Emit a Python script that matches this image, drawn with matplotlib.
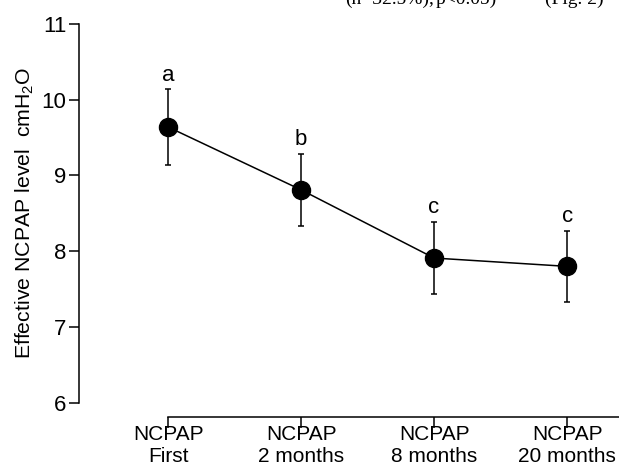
import matplotlib
matplotlib.use("Agg")
import matplotlib.pyplot as plt

fam = "Liberation Sans"
plt.rcParams['font.family'] = [fam, 'DejaVu Sans']
plt.rcParams['mathtext.fontset'] = 'custom'
plt.rcParams['mathtext.rm'] = fam
plt.rcParams['mathtext.it'] = fam

categories = ["NCPAP\nFirst", "NCPAP\n2 months", "NCPAP\n8 months", "NCPAP\n20 months"]
means = [9.64, 8.81, 7.91, 7.80]
errors = [0.50, 0.48, 0.48, 0.47]
letters = ["a", "b", "c", "c"]
yticks = [6, 7, 8, 9, 10, 11]
top_text = ["(n=32.5%),", "p<0.05)", "(Fig. 2)"]

fig = plt.figure(figsize=(6.19, 4.66), dpi=100)
W, H = 619, 466
ax = fig.add_axes([79 / W, (H - 402.7) / H, 540 / W, (402.7 - 24) / H])

x = list(range(len(categories)))
ax.errorbar(x, means, yerr=errors, fmt='o-', color='black', ms=13, lw=1.1,
            elinewidth=1.1, capsize=2.5, capthick=1.1)
for xi, m, e, l in zip(x, means, errors, letters):
    ax.annotate(l, (xi, m + e), xytext=(0, 6), textcoords='offset points',
                ha='center', va='baseline', fontsize=16)

ax.set_xlim(-0.67, 3.39)
ax.set_ylim(6, 11)
ax.set_yticks(yticks)
ax.set_xticks(x)
ax.set_xticklabels(categories, linespacing=1.0)
ax.tick_params(axis='y', labelsize=16, length=7, width=1.1, pad=2)
ax.tick_params(axis='x', labelsize=15, length=8, width=1.1, pad=-2)
for s in ['top', 'right']:
    ax.spines[s].set_visible(False)
ax.spines['left'].set_linewidth(1.1)
ax.spines['bottom'].set_linewidth(1.1)
ax.spines['bottom'].set_position(('outward', 10))
ax.spines['bottom'].set_bounds(0, 3.39)
ax.set_ylabel(r"Effective NCPAP level  cmH$_2$O", fontsize=15.3, labelpad=4)

# page text cut off at the top edge of the original crop
for xp, t in zip([345, 436, 545], top_text):
    fig.text(xp / W, (H - 4) / H, t, family='Liberation Serif',
             fontsize=14, va='baseline', ha='left', color='black')

fig.savefig("out.png", dpi=100)
